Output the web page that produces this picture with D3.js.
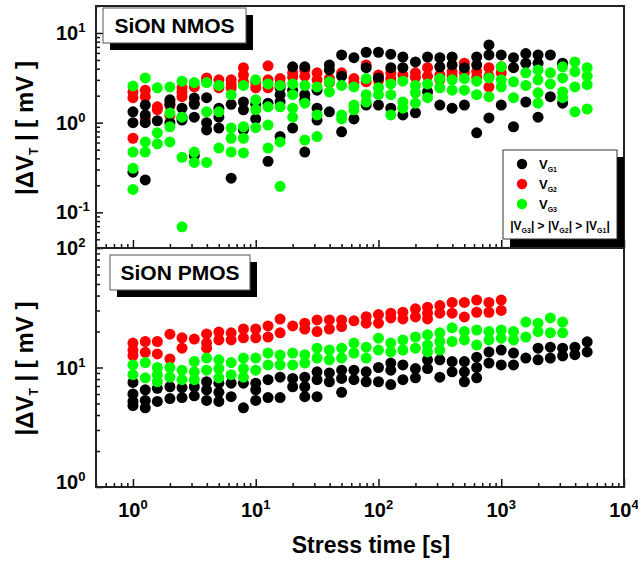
<!DOCTYPE html>
<html>
<head>
<meta charset="utf-8">
<script src="https://cdnjs.cloudflare.com/ajax/libs/d3/7.8.5/d3.min.js"></script>
<style>
  body { margin: 0; background: #fff; }
  svg text { font-family: "Liberation Sans", Arial, sans-serif; font-weight: bold; fill: #000; }
</style>
</head>
<body>
<svg id="chart" width="638" height="562"></svg>
<script>
// stress times (10 per decade)
var times = [1, 1.26, 1.58, 2, 2.51, 3.16, 3.98, 5.01, 6.31, 7.94,
  10, 12.6, 15.8, 20, 25.1, 31.6, 39.8, 50.1, 63.1, 79.4,
  100, 126, 158, 200, 251, 316, 398, 501, 631, 794,
  1000, 1259, 1585, 1995, 2512, 3162, 3981, 5012];

// tick labels
var xTicks = [1, 10, 100, 1000, 10000];
var xTickExp = ["0", "1", "2", "3", "4"];
var yTopTicks = [0.1, 1, 10];
var yTopExp = ["-1", "0", "1"];
var yBotTicks = [1, 10, 100];
var yBotExp = ["0", "1", "2"];

// SiON NMOS, |dVt| in mV, one list per stress time
var nmosG1 = [[1.32,1.0,0.28],[1.57,1.22,1.0,0.23],[1.05],[1.8,1.6,1.0],[1.45,1.15,1.07],
  [1.88,1.6,1.15,0.43],[1.9,1.0,0.83],[1.45,1.15,0.87],[1.6,0.24],[1.7,1.39,0.83],
  [1.6,1.1],[1.65,0.37],[2.45,2.05,1.7,0.7],[4.2,2.3,0.87],[4.2,2.05,1.8,0.47],
  [2.3,1.45,1.07],[4.4,3.87,1.32],[5.7,3.3,0.79],[5.3,1.1],[6.1,4.1,1.57],
  [6.1,3.15,1.57],[5.8,4.1,1.45],[5.4,4.1,1.22],[4.75,1.29],[5.4,2.2],
  [5.3,4.2,1.57],[5.4,4.4,1.45],[4.1,1.57],[5.4,4.4,0.77],[7.35,5.7,1.13],
  [5.7,1.57],[5.3,4.1,0.9],[5.9,4.6,1.7],[5.7,4.6,1.15],[5.7,1.95],[4.6,4.4,1.65],[],[]];
var nmosG2 = [[2.2,1.9,0.67],[2.3,1.95,1.1],[1.5,1.4],[1.7,1.55,1.2],[2.45,2.2,1.95],
  [2.5,1.65],[3.15,2.9],[3.0,2.45],[3.0,2.7,2.45],[4.1,3.4,2.85],
  [2.8,2.45],[4.3,3.0,2.45],[3.1,2.7],[3.6,3.2],[3.87,3.3],
  [3.6,3.0],[3.1,2.8],[3.6],[3.1,2.8],[4.4,2.85],
  [3.4,2.95],[3.6,3.1],[3.4],[3.6,3.2],[4.1,3.3],
  [3.4,3.0],[3.7,3.3],[4.6,3.6],[3.7,3.2],[4.1,3.3,2.5],
  [4.2,3.6],[],[],[],[],[],[],[]];
var nmosG3 = [[2.57,0.47,0.31,0.18],[3.15,0.61,0.47],[2.45,0.77,0.58],[2.5,1.28,0.9,0.61],[2.9,1.15,0.41,0.069],
  [2.8,0.47,0.36],[2.8,1.32,0.36],[2.6,1.32,0.52],[2.05,0.87,0.67,0.47],[2.6,0.9,0.67,0.46],
  [3.0,1.8,1.4,0.88],[2.7,1.5,0.94,0.52],[2.6,1.5,0.61,0.195],[2.7,2.05,1.45,1.15],[2.6,1.65,0.64],
  [2.5,1.22,0.7],[2.85,2.2],[2.6,1.22,1.1],[2.5,1.57,1.39],[3.1,2.05,1.7],
  [2.45,2.05],[2.7,2.05,1.22],[2.9,1.7,1.45],[2.6,2.15,1.65],[2.7,1.9],
  [3.1,2.45],[3.0,2.3],[3.1,2.3],[2.9,2.05],[3.15,1.95],
  [4.2,3.0,2.5],[2.85,1.9],[3.6,2.6],[3.87,3.0,2.15,1.65],[3.6,2.7],
  [4.2,3.15,2.2,1.9],[4.75,3.7,2.5,1.32],[4.1,3.3,2.65,1.42]];

// SiON PMOS
var pmosG1 = [[7.5,6.0,5.2,4.8],[6.5,5.3,4.6],[6.7,5.2],[6.9,5.5],[6.8,5.6],
  [6.9,5.8],[7.6,6.5,5.3],[7.4,6.2,5.2],[7.4,5.7],[7.4,4.6],
  [7.4,6.5,5.3],[7.9,5.6],[8.3,5.6],[8.1,6.9],[8.3,6.9,5.7],
  [9.2,7.9,5.7],[9.0,7.6],[9.5,8.1,6.2],[9.5,7.9],[9.2,7.6],
  [10,7.6],[10.9,9.5,7.2],[10.5,7.9],[9.8,8.2],[11.6,9.8],
  [11.6,8.3],[11.2,9.2],[11.2,9.2,7.6],[12.2,10,8.2],[13.5,10.9],
  [14,10.5],[13.2,10.5],[12],[14.5,11.6],[14.8,12],
  [14.5,12.5],[14.8,12.8],[16.4,13.5]];
var pmosG2 = [[16,14,12.6],[16.5,13.4],[16.5,13],[19,11.8],[17.7,14.5],
  [17.3],[19.1,16,14.5],[19.8,17],[19.5,17],[21,17.7],
  [21,17.7],[22.3,18],[25.4,19.5],[22.3],[23.5,21],
  [25,20],[25,21],[25,22],[24.6],[26.6,23.5],
  [27.7,23.5],[28.5,26],[29,25.5],[31,26.5],[32,28.5,25.5],
  [33,28.5],[35,28.5],[35,26.5],[36.7,29],[35,29],
  [36.7,30],[],[],[],[],[],[],[]];
var pmosG3 = [[10.5,8.7],[11,8.2],[10,8.7,7.6],[10,8.3],[9.5,7.9],
  [11.2,9.2,7.9],[12,9.5],[11.6,9.8,8.2],[11,8.7],[12,9.8,8.3],
  [12,9.5],[13.2,10.5],[12.7,10.5],[13.2,10.5],[12.8,10.9],
  [14.5,12],[14,11.6],[14.5,12],[16,13.2],[14.8,12],
  [17.6,14],[16,13.5],[17,14],[18,14.5],[18.8,15.4,13.5],
  [19.5,16.5,14],[21.5,16.5],[20,17],[20.6,15.4],[20,17],
  [20.6,17.6],[20,17],[24,18],[23.5,20],[26,19.5],
  [24,19.5],[],[]];

var svg = d3.select('#chart');
var L = 96, R = 624;
var x = d3.scaleLog().domain([0.5, 10000]).range([L, R]);

var colors = {g1: '#000000', g2: '#ff0000', g3: '#00ff00'};

function flat(series) {
  var out = [];
  series.forEach(function(vals, i) {
    vals.forEach(function(v) { out.push({t: times[i], v: v}); });
  });
  return out;
}

function minors(domain) {
  var lo = Math.floor(Math.log10(domain[0])), hi = Math.ceil(Math.log10(domain[1]));
  var res = [];
  for (var d = lo; d < hi; d++) {
    for (var m = 2; m <= 9; m++) {
      var v = m * Math.pow(10, d);
      if (v >= domain[0] * 0.999 && v <= domain[1] * 1.001) res.push(v);
    }
  }
  return res;
}

function supLabel(sel, px, py, exp, anchor) {
  var t = sel.append('text').attr('x', px).attr('y', py).attr('text-anchor', anchor)
    .style('font-size', '20px');
  t.append('tspan').text('10');
  t.append('tspan').attr('dy', -8).style('font-size', '13px').text(exp);
  return t;
}

function drawPanel(p) {
  var y = d3.scaleLog().domain(p.domain).range([p.y1, p.y0]);
  var g = svg.append('g');

  // ticks
  g.append('g').attr('transform', 'translate(0,' + p.y1 + ')')
    .call(d3.axisBottom(x).tickValues(xTicks).tickSize(-8).tickSizeOuter(0).tickFormat(''))
    .call(function(a) { a.select('.domain').remove(); });
  g.append('g').attr('transform', 'translate(0,' + p.y1 + ')')
    .call(d3.axisBottom(x).tickValues(minors(x.domain())).tickSize(-4).tickSizeOuter(0).tickFormat(''))
    .call(function(a) { a.select('.domain').remove(); });
  g.append('g').attr('transform', 'translate(' + L + ',0)')
    .call(d3.axisLeft(y).tickValues(p.ticks).tickSize(-7).tickSizeOuter(0).tickFormat(''))
    .call(function(a) { a.select('.domain').remove(); });
  g.append('g').attr('transform', 'translate(' + L + ',0)')
    .call(d3.axisLeft(y).tickValues(minors(p.domain)).tickSize(-4).tickSizeOuter(0).tickFormat(''))
    .call(function(a) { a.select('.domain').remove(); });
  g.selectAll('.tick line').attr('stroke', '#111').attr('stroke-width', 1.5);

  // y labels
  p.ticks.forEach(function(v, i) {
    supLabel(g, 56, Math.min(y(v) + 7, p.y1 + 2), p.exp[i], 'start');
  });

  // dots
  var dots = g.append('g');
  [['g2', p.g2], ['g1', p.g1], ['g3', p.g3]].forEach(function(s) {
    dots.selectAll(null).data(flat(s[1])).enter().append('circle')
      .attr('cx', function(d) { return x(d.t); })
      .attr('cy', function(d) { return y(d.v); })
      .attr('r', 5.5)
      .attr('fill', colors[s[0]]);
  });

  // frame
  g.append('rect').attr('x', L).attr('y', p.y0).attr('width', R - L).attr('height', p.y1 - p.y0)
    .attr('fill', 'none').attr('stroke', '#222').attr('stroke-width', 2);

  // y title
  var yt = g.append('text')
    .attr('transform', 'translate(33,' + ((p.y0 + p.y1) / 2 + 1) + ') rotate(-90)')
    .attr('text-anchor', 'middle').style('font-size', '24px');
  yt.append('tspan').text('|\u0394V');
  yt.append('tspan').attr('dy', 5).style('font-size', '12px').text('T');
  yt.append('tspan').attr('dy', -5).text(' | [ mV ]');

  // panel label with shadow
  var b = p.box;
  g.append('rect').attr('x', b.x + 7).attr('y', b.y + 7).attr('width', b.w).attr('height', b.h).attr('fill', '#000');
  g.append('rect').attr('x', b.x).attr('y', b.y).attr('width', b.w).attr('height', b.h)
    .attr('fill', '#fff').attr('stroke', '#555').attr('stroke-width', 1);
  g.append('text').attr('x', b.x + b.w / 2).attr('y', b.y + 25).attr('text-anchor', 'middle')
    .style('font-size', '21px').text(p.label);

  return g;
}

var topP = drawPanel({y0: 6, y1: 248, domain: [0.04, 20], ticks: yTopTicks, exp: yTopExp,
  g1: nmosG1, g2: nmosG2, g3: nmosG3, label: 'SiON NMOS', box: {x: 103, y: 8, w: 143, h: 35}});

// legend (NMOS panel)
var lg = topP.append('g');
lg.append('rect').attr('x', 510).attr('y', 157).attr('width', 114).attr('height', 91).attr('fill', '#000');
lg.append('rect').attr('x', 503).attr('y', 150).attr('width', 114).attr('height', 89)
  .attr('fill', '#fff').attr('stroke', '#333').attr('stroke-width', 1);
var legendItems = [['g1', 'G1'], ['g2', 'G2'], ['g3', 'G3']];
legendItems.forEach(function(it, i) {
  var cy = 164 + i * 20;
  lg.append('circle').attr('cx', 522).attr('cy', cy).attr('r', 5.2).attr('fill', colors[it[0]]);
  var t = lg.append('text').attr('x', 539).attr('y', cy + 5).style('font-size', '13px');
  t.append('tspan').text('V');
  t.append('tspan').attr('dy', 3).style('font-size', '7px').text(it[1]);
});
var rel = lg.append('text').attr('x', 560).attr('y', 230).attr('text-anchor', 'middle').style('font-size', '12px');
[['G3', ' > |V'], ['G2', ' > |V'], ['G1', '']].forEach(function(p, i) {
  if (i === 0) rel.append('tspan').text('|V');
  rel.append('tspan').attr('dy', 3).style('font-size', '7px').text(p[0]);
  rel.append('tspan').attr('dy', -3).text('|' + p[1]);
});

drawPanel({y0: 248, y1: 487, domain: [1, 100], ticks: yBotTicks, exp: yBotExp,
  g1: pmosG1, g2: pmosG2, g3: pmosG3, label: 'SiON PMOS', box: {x: 110, y: 255, w: 140, h: 35}});

// x tick labels
xTicks.forEach(function(v, i) {
  supLabel(svg, x(v), 517, xTickExp[i], 'middle');
});

svg.append('text').attr('x', 371).attr('y', 553).attr('text-anchor', 'middle')
  .style('font-size', '23px').text('Stress time [s]');
</script>
</body>
</html>
